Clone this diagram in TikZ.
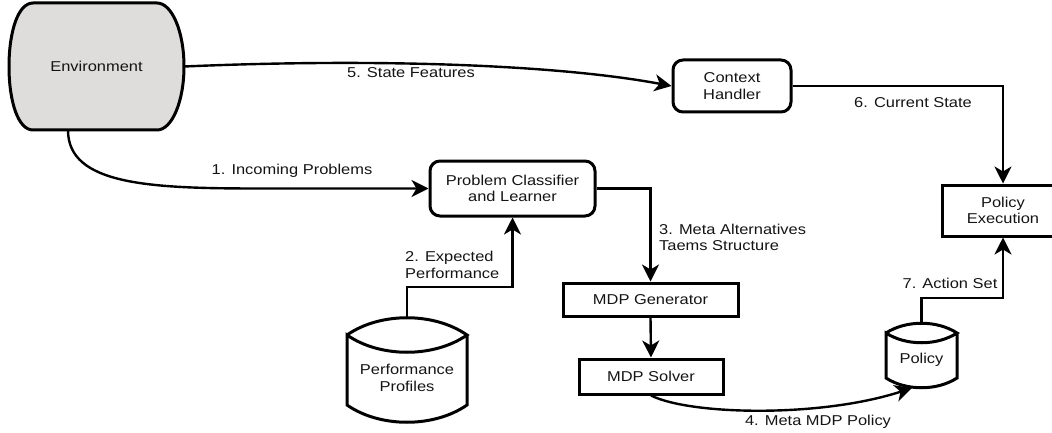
\documentclass[tikz,border=0pt]{standalone}
\usepackage{fontspec}
\setmainfont[FakeStretch=1.15]{Liberation Sans}
\usetikzlibrary{arrows.meta}
\definecolor{envgray}{RGB}{223,220,220}
\begin{document}
\begin{tikzpicture}[x=1pt,y=-1pt,
  font=\fontsize{14.3}{16.5}\selectfont,
  every node/.style={text=black!92},
  box/.style={draw=black, line width=3pt, align=center, inner sep=0pt},
  rbox/.style={box, rounded corners=10pt},
  shp/.style={draw=black, line width=3pt},
  conn/.style={line width=2.4pt, -{Stealth[length=17pt,width=17pt,inset=5pt]}},
  lbl/.style={inner sep=0pt}]
\useasboundingbox (0,0) rectangle (1052,433);
% Environment
\draw[shp, fill=envgray] (33,3) -- (157,3)
  .. controls (171.9,3) and (184,31.5) .. (184,66.5)
  .. controls (184,101.5) and (171.9,130) .. (157,130)
  -- (33,130)
  .. controls (18.1,130) and (9,101.5) .. (9,66.5)
  .. controls (9,31.5) and (18.1,3) .. (33,3) -- cycle;
\node[inner sep=0pt, minimum width=175pt, minimum height=127pt] (env) at (96.5,66.5) {Environment};
% boxes
\node[rbox, minimum width=118pt, minimum height=52pt] (ch) at (732,86) {Context\\Handler};
\node[rbox, minimum width=165pt, minimum height=55pt] (pc) at (512.5,188.5) {Problem Classifier\\and Learner};
\node[box, minimum width=175pt, minimum height=33pt] (gen) at (650.5,299.5) {MDP Generator};
\node[box, minimum width=144pt, minimum height=35pt] (sol) at (651,376.5) {MDP Solver};
\node[box, minimum width=122pt, minimum height=51pt] (pe) at (1003,210.5) {Policy\\Execution};
% cylinders
\draw[shp] (347,335) .. controls (380,312) and (434,312) .. (467,335)
  .. controls (434,358) and (380,358) .. (347,335) -- (347,405)
  .. controls (380,428) and (434,428) .. (467,405) -- (467,335);
\node[inner sep=0pt, align=center, minimum width=120pt, minimum height=122pt] (perf) at (407,378) {Performance\\Profiles};
\draw[shp] (886,333) .. controls (906,320) and (937,320) .. (957,333)
  .. controls (937,346) and (906,346) .. (886,333) -- (886,378)
  .. controls (906,391) and (937,391) .. (957,378) -- (957,333);
\node[inner sep=0pt, minimum width=71pt, minimum height=74pt] (policy) at (921.5,360) {Policy};
\coordinate (polin) at (912,388);
% connectors
\draw[conn] (env.east) .. controls (380,58) and (560,65) .. (ch.west);
\draw[conn] ([xshift=-28.5pt]env.south) .. controls (68,185) and (150,188.5) .. (260,188.5) -- (pc.west);
\draw[conn] (perf.north) -- ++(0,-30) -| (pc.south);
\draw[conn] (pc.east) -| (gen.north);
\draw[conn] (gen.south) -- (sol.north);
\draw[conn] (sol.south) .. controls (690,415) and (820,418) .. (polin);
\draw[conn] (ch.east) -| (pe.north);
\draw[conn] (policy.north) -- ++(0,-25) -| (pe.south);
% labels
\node[lbl] (l5) at (411,73) {5. State Features};
\node[lbl] (l1) at (292,171) {1. Incoming Problems};
\node[lbl, align=left, anchor=west] (l2) at (405,265) {2. Expected\\Performance};
\node[lbl, align=left, anchor=west] (l3) at (659,237.5) {3. Meta Alternatives\\Taems Structure};
\node[lbl] (l6) at (913,103) {6. Current State};
\node[lbl] (l7) at (950,283) {7. Action Set};
\node[lbl] (l4) at (818,422) {4. Meta MDP Policy};
\end{tikzpicture}
\end{document}
